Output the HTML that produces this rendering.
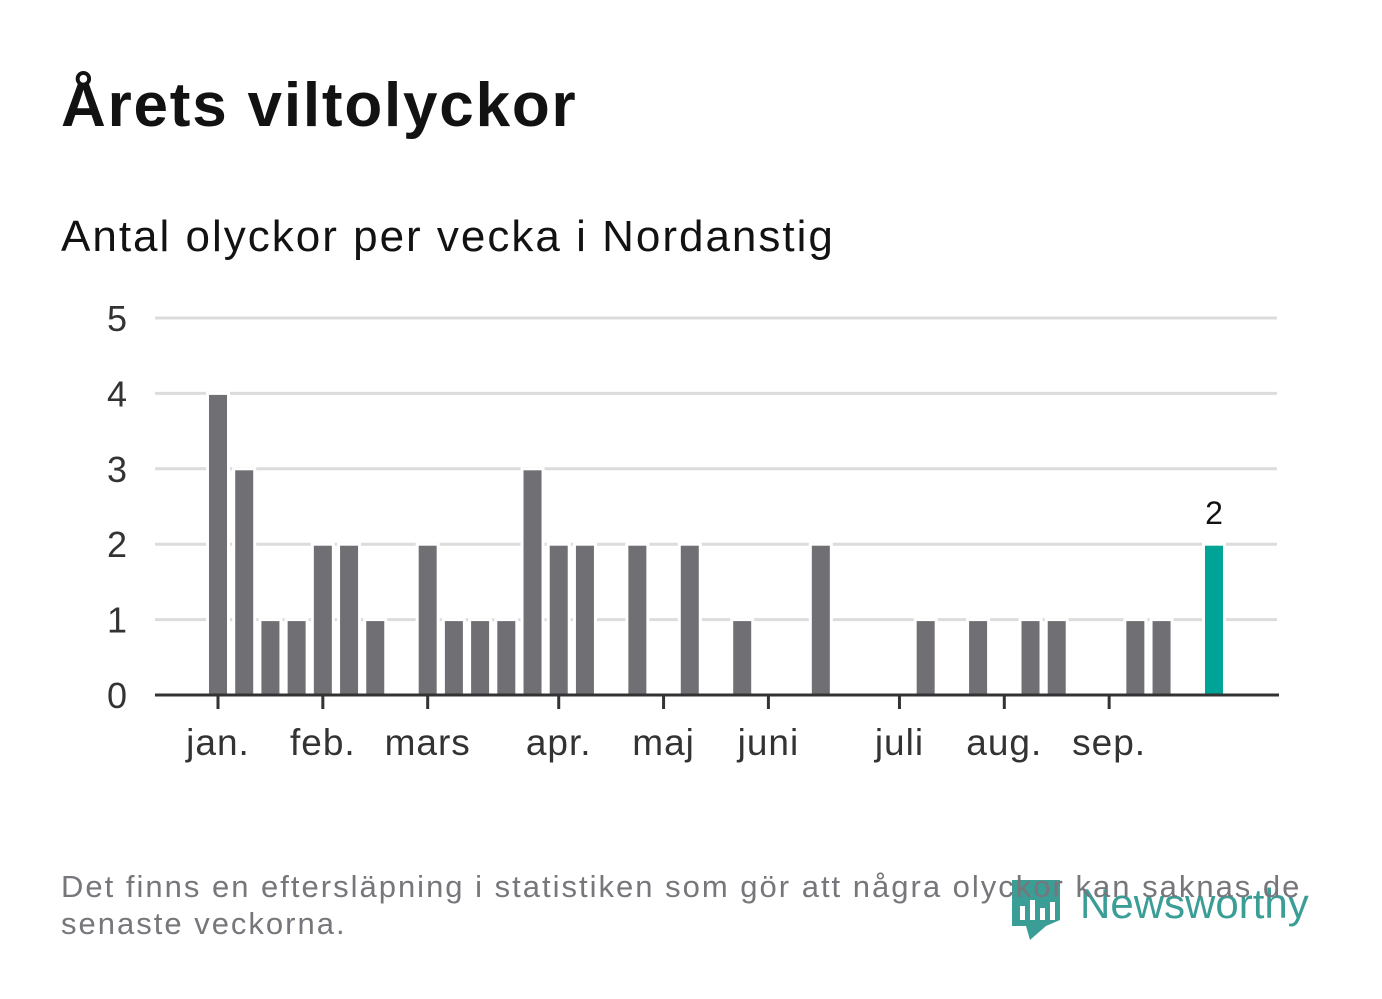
<!DOCTYPE html>
<html><head><meta charset="utf-8"><style>
body{margin:0;width:1382px;height:999px;background:#fff;font-family:"Liberation Sans",sans-serif;overflow:hidden;position:relative}
.t{position:absolute;left:61px;top:70px;font-size:62px;font-weight:bold;color:#121212;margin:0;letter-spacing:1.8px}
.s{position:absolute;left:61px;top:212px;font-size:44px;color:#121212;letter-spacing:2px}
.n{position:absolute;left:61px;top:868px;font-size:31px;line-height:37px;color:#77767b;z-index:2;letter-spacing:2px;white-space:nowrap}
</style></head><body>
<h1 class="t">Årets viltolyckor</h1>
<div class="s">Antal olyckor per vecka i Nordanstig</div>
<svg width="1382" height="999" style="position:absolute;left:0;top:0" id="c"></svg>
<div class="n">Det finns en eftersläpning i statistiken som gör att några olyckor kan saknas de<br>senaste veckorna.</div>
<script>
const weeks=[1,2,3,4,5,6,7,8,9,10,11,12,13,14,15,16,17,18,19,20,21,22,23,24,25,26,27,28,29,30,31,32,33,34,35,36,37,38,39];
const values=[4,3,1,1,2,2,1,0,2,1,1,1,3,2,2,0,2,0,2,0,1,0,0,2,0,0,0,1,0,1,0,1,1,0,0,1,1,0,2];
const yTicks=[0,1,2,3,4,5];
const monthLabels=["jan.","feb.","mars","apr.","maj","juni","juli","aug.","sep."];
const monthWeeks=[1,5,9,14,18,22,27,31,35];
const NS="http://www.w3.org/2000/svg",svg=document.getElementById('c');
const x=w=>218+(w-1)*26.21, y=v=>695-v*75.4;
function el(t,a,txt){const e=document.createElementNS(NS,t);for(const k in a)e.setAttribute(k,a[k]);if(txt!=null)e.textContent=txt;svg.appendChild(e);return e;}
yTicks.forEach(t=>{
 if(t>0){const g=el('line',{x1:155,x2:1277,y1:y(t),y2:y(t),stroke:'#dcdcdc','stroke-width':3});
 
 }
 const l=el('text',{x:127,y:y(t)+13,'text-anchor':'end','font-size':36,fill:'#333','font-family':'Liberation Sans,sans-serif'},t);
 
 
});
weeks.forEach((w,i)=>{
 const v=values[i]; if(!v)return;
 const last=i==weeks.length-1;
 const r=el('rect',{x:x(w)-10.5,y:y(v),width:21,height:695-y(v),fill:last?'#00a497':'#706f74',stroke:'#fff','stroke-width':3});
 
 
 if(last){const lb=el('text',{x:x(w),y:y(v)-20,'text-anchor':'middle','font-size':32,fill:'#121212'},v);
 
 }
});
const ax=el('line',{x1:155,x2:1279,y1:695,y2:695,stroke:'#333','stroke-width':3});


monthLabels.forEach((m,i)=>{
 const xx=x(monthWeeks[i]);
 const tk=el('line',{x1:xx,x2:xx,y1:695,y2:709,stroke:'#333','stroke-width':3});
 
 
 const l=el('text',{x:xx,y:755,'text-anchor':'middle','font-size':37,fill:'#333','letter-spacing':1},m);
 
 
});
const lg=el('path',{d:'M1012 880 h48 v40 l-14 6 l-16 14 l-4-14 h-14 z',fill:'#3a9e96'});


[[1020,906,14],[1030,900,20],[1040,908,12],[1050,902,18]].forEach(b=>{const r=el('rect',{x:b[0],y:b[1],width:5,height:b[2],fill:'#fff'});
 
 });
const lt=el('text',{x:1080,y:918,'font-size':42,fill:'#3a9e96','font-family':'Liberation Sans,sans-serif'},'Newsworthy');


</script>
</body></html>
